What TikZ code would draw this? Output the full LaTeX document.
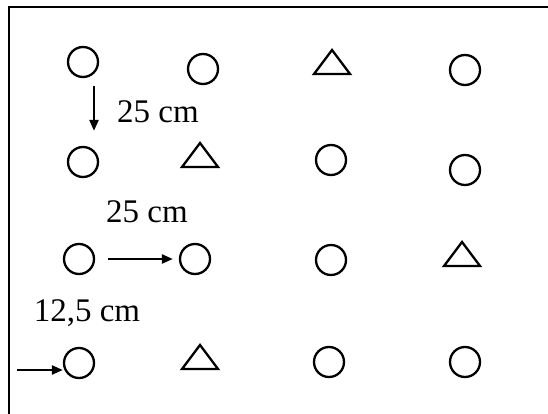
\documentclass[tikz,border=0pt]{standalone}
\usepackage{fontspec}
\setmainfont{Liberation Serif}
\usetikzlibrary{arrows.meta,shapes.geometric}

\begin{document}
\begin{tikzpicture}[
  x=1pt, y=-1pt,
  font=\fontsize{33}{36}\selectfont,
  plant/.style={draw, circle, line width=2.3pt, minimum size=30pt, inner sep=0pt},
  other/.style={draw, isosceles triangle, isosceles triangle stretches, shape border rotate=90,
    line width=2.3pt, minimum width=36pt, minimum height=24pt, inner sep=0pt},
  gap/.style={-{Triangle[length=11pt,width=9pt]}, line width=2.3pt},
  dist/.style={inner sep=0pt, anchor=center}
]
\useasboundingbox (0,0) rectangle (548,414);
% ---- frame ----
\draw[line width=2.5pt] (548,7) -- (9,7) -- (9,414);
% ---- row 1 ----
\node[plant] (a1) at (83,62) {};
\node[plant] (a2) at (203,69) {};
\node[other] (a3) at (332,65) {};
\node[plant] (a4) at (465,70) {};
% ---- row 2 ----
\node[plant] (b1) at (83,162) {};
\node[other] (b2) at (200,158) {};
\node[plant] (b3) at (331,160) {};
\node[plant] (b4) at (465,170) {};
% ---- row 3 ----
\node[plant] (c1) at (79,259) {};
\node[plant] (c2) at (195,259) {};
\node[plant] (c3) at (331,260) {};
\node[other] (c4) at (462,257) {};
% ---- row 4 ----
\node[plant] (d1) at (79,363) {};
\node[other] (d2) at (200,360) {};
\node[plant] (d3) at (329,362) {};
\node[plant] (d4) at (465,362) {};
% ---- spacings ----
\node[dist] (t1) at (158,112) {25 cm};
\node[dist] (t2) at (147,212) {25 cm};
\node[dist] (t3) at (87,313) {12,5 cm};
\coordinate (edge) at (17,370);
\draw[gap] ([xshift=11pt,yshift=-8pt]a1.south) -- ([xshift=11pt,yshift=15pt]b1.north);
\draw[gap, shorten <=13pt, shorten >=6pt] (c1.east) -- (c2.west);
\draw[gap] (edge) -- (d1.west |- edge);
\end{tikzpicture}
\end{document}
